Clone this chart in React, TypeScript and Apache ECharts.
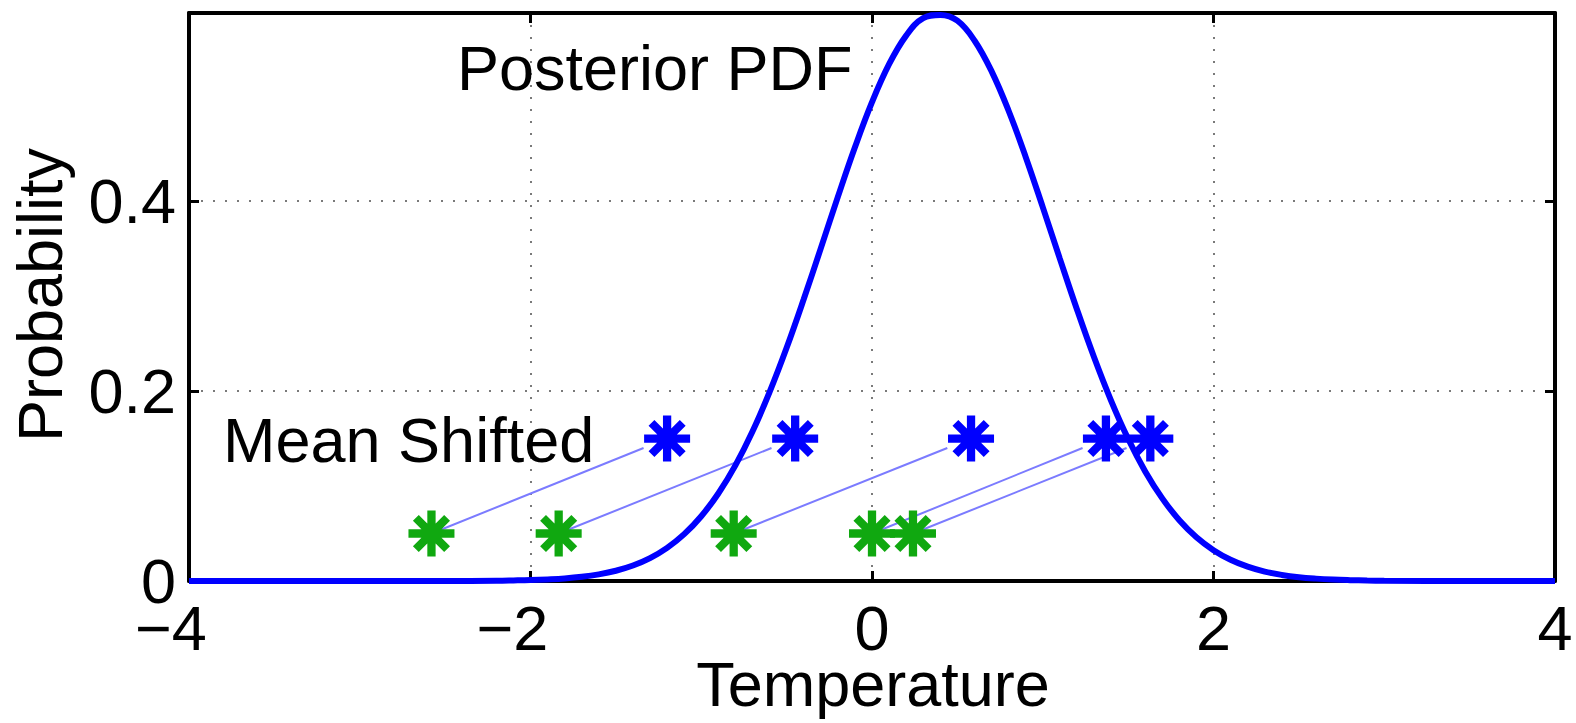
import React, { useEffect, useRef } from "react";
import * as echarts from "echarts";

// ---- data ----
const pdfX = [-4, -3, -2.5, -2.2, -2.1, -2.0, -1.9, -1.8, -1.7, -1.6, -1.5, -1.4, -1.3, -1.2, -1.1, -1.0, -0.9, -0.8, -0.7, -0.6, -0.5, -0.4, -0.3, -0.2, -0.1, 0.0, 0.1, 0.2, 0.3, 0.4, 0.5, 0.6, 0.7, 0.8, 0.9, 1.0, 1.1, 1.2, 1.3, 1.4, 1.5, 1.6, 1.7, 1.8, 1.9, 2.0, 2.1, 2.2, 2.3, 2.4, 2.5, 2.6, 2.7, 2.8, 2.9, 3.0, 3.5, 4];
const pdfY = [0, 0, 0, 0.0003, 0.0006, 0.0010, 0.0017, 0.0027, 0.0044, 0.0070, 0.0108, 0.0163, 0.0241, 0.0349, 0.0493, 0.0682, 0.0921, 0.1217, 0.1573, 0.1988, 0.2455, 0.2966, 0.3502, 0.4044, 0.4566, 0.5041, 0.5441, 0.5742, 0.5926, 0.5960, 0.5899, 0.5691, 0.5368, 0.4951, 0.4465, 0.3936, 0.3394, 0.2861, 0.2358, 0.1900, 0.1497, 0.1154, 0.0870, 0.0640, 0.0461, 0.0325, 0.0224, 0.0151, 0.0099, 0.0064, 0.0040, 0.0025, 0.0015, 0.0009, 0.0005, 0.0003, 0, 0];

const sampleX = [-2.58, -1.835, -0.81, 0.0, 0.24];
const sampleY = [0.05, 0.05, 0.05, 0.05, 0.05];
const shiftedX = [-1.2, -0.45, 0.58, 1.37, 1.63];
const shiftedY = [0.15, 0.15, 0.15, 0.15, 0.15];

const xTicks = { min: -4, max: 4, interval: 2 };
const yTicks = { min: 0, max: 0.598, interval: 0.2 };

const xAxisTitle = "Temperature";
const yAxisTitle = "Probability";
const pdfLabel = "Posterior PDF";
const shiftLabel = "Mean Shifted";

const QUIVER_SCALE = 0.9;
const FONT = "'Liberation Sans', Arial, Helvetica, sans-serif";
const FS = 63;
const LH = 48;

const STAR =
  "path://M41 0L59 0L59 100L41 100Z" +
  "M0 41L100 41L100 59L0 59Z" +
  "M22.4 9.7L90.3 77.6L77.6 90.3L9.7 22.4Z" +
  "M90.3 22.4L22.4 90.3L9.7 77.6L77.6 9.7Z";

export default function App() {
  const ref = useRef<HTMLDivElement>(null);
  useEffect(() => {
    if (!ref.current) return;
    const chart = echarts.init(ref.current, undefined, { renderer: "svg" });

    const axisLine = { show: true, onZero: false, lineStyle: { color: "#000", width: 4 } };
    const axisTick = { show: true, inside: true, length: 10, lineStyle: { color: "#000", width: 3 } };
    const splitLine = { show: true, lineStyle: { color: "#7a7a7a", width: 2, type: [2, 10] } };

    const curve = pdfX.map((x, i) => [x, pdfY[i]]);
    const quiver = sampleX.map((gx, i) => {
      const gy = sampleY[i];
      const ex = gx + QUIVER_SCALE * (shiftedX[i] - gx);
      const ey = gy + QUIVER_SCALE * (shiftedY[i] - gy);
      return { coords: [[gx, gy], [ex, ey]] };
    });

    const textStyle = (align: string) => ({
      font: `${FS}px ${FONT}`,
      fill: "#000",
      lineHeight: LH,
      align,
      verticalAlign: "middle",
      textAlign: align,
      textVerticalAlign: "middle",
    });

    chart.setOption({
      animation: false,
      textStyle: { fontFamily: FONT },
      grid: { left: 189, right: 21, top: 13, bottom: 142, containLabel: false },
      xAxis: [
        {
          type: "value",
          ...xTicks,
          position: "bottom",
          axisLine,
          axisTick,
          splitLine,
          axisLabel: {
            color: "#000",
            fontSize: FS,
            fontFamily: FONT,
            lineHeight: LH,
            margin: 15 + (FS - LH) / 2,
            formatter: (v: number) => (v < 0 ? `\u2212${-v}{pad|\u00a0}` : `${v}`),
            rich: { pad: { width: 36, fontSize: FS, fontFamily: FONT, lineHeight: LH } },
          },
        },
        {
          type: "value",
          ...xTicks,
          position: "top",
          axisLine,
          axisTick,
          splitLine: { show: false },
          axisLabel: { show: false },
        },
      ],
      yAxis: [
        {
          type: "value",
          ...yTicks,
          position: "left",
          axisLine,
          axisTick,
          splitLine,
          axisLabel: {
            color: "#000",
            fontSize: FS,
            fontFamily: FONT,
            lineHeight: LH,
            margin: 13,
            showMaxLabel: false,
          },
        },
        {
          type: "value",
          ...yTicks,
          position: "right",
          axisLine,
          axisTick,
          splitLine: { show: false },
          axisLabel: { show: false },
        },
      ],
      series: [
        {
          type: "lines",
          coordinateSystem: "cartesian2d",
          data: quiver,
          lineStyle: { color: "#7b7bff", width: 2, opacity: 1 },
          silent: true,
          z: 2,
        },
        {
          type: "line",
          data: curve,
          showSymbol: false,
          symbol: "none",
          smooth: 0.4,
          clip: false,
          lineStyle: { color: "#0000ff", width: 6 },
          z: 3,
        },
        {
          type: "scatter",
          data: shiftedX.map((x, i) => [x, shiftedY[i]]),
          symbol: STAR,
          symbolSize: 46,
          symbolKeepAspect: true,
          itemStyle: { color: "#0000ff", opacity: 1 },
          z: 4,
        },
        {
          type: "scatter",
          data: sampleX.map((x, i) => [x, sampleY[i]]),
          symbol: STAR,
          symbolSize: 46,
          symbolKeepAspect: true,
          itemStyle: { color: "#10a810", opacity: 1 },
          z: 4,
        },
      ],
      graphic: [
        { type: "text", x: 457, y: 67.5, style: { text: pdfLabel, ...textStyle("left") }, z: 10 },
        { type: "text", x: 223, y: 440, style: { text: shiftLabel, ...textStyle("left") }, z: 10 },
        { type: "text", x: 873, y: 684, style: { text: xAxisTitle, ...textStyle("center") }, z: 10 },
        {
          type: "text",
          x: 40,
          y: 295,
          rotation: Math.PI / 2,
          style: { text: yAxisTitle, ...textStyle("center") },
          z: 10,
        },
      ],
    });
    return () => chart.dispose();
  }, []);
  return (
    <div
      ref={ref}
      style={{ position: "absolute", left: 0, top: 0, width: 1576, height: 723, background: "#fff" }}
    />
  );
}
